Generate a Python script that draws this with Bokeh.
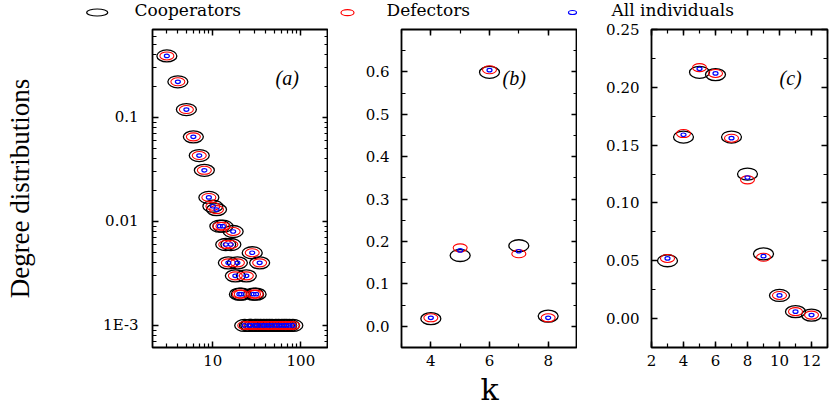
from bokeh.plotting import figure
from bokeh.layouts import row, column
from bokeh.models import (Range1d, FixedTicker, SingleIntervalTicker, LinearAxis, LogAxis,
                          Label, PrintfTickFormatter)
from bokeh.core.properties import value
from bokeh.embed import file_html
from bokeh.resources import INLINE

# ---------------- data ----------------
# panel (a): log-log degree distribution (all three series coincide)
k_a = [3, 4, 5, 6, 7, 8, 9, 10, 11, 12, 13, 14, 15, 16, 17, 18, 19, 20, 21, 23, 24,
       26, 27, 28, 29, 30, 31, 32, 34, 35, 38, 41, 44, 47, 52, 56, 61, 65, 69, 74, 81]
coop_a = [0.39, 0.22, 0.119, 0.065, 0.043, 0.031, 0.017, 0.014, 0.013, 0.009, 0.009, 0.006,
          0.004, 0.006, 0.008, 0.003, 0.004, 0.002, 0.002, 0.001, 0.003, 0.001, 0.001, 0.005,
          0.002, 0.001, 0.002, 0.001, 0.004, 0.001, 0.001, 0.001, 0.001, 0.001, 0.001, 0.001,
          0.001, 0.001, 0.001, 0.001, 0.001]
def_a = list(coop_a)
all_a = list(coop_a)

# panel (b)
k_b = [4, 5, 6, 7, 8]
coop_b = [0.018, 0.167, 0.599, 0.190, 0.024]
def_b = [0.020, 0.185, 0.605, 0.171, 0.020]
all_b = [0.020, 0.179, 0.604, 0.177, 0.020]

# panel (c)
k_c = [3, 4, 5, 6, 7, 8, 9, 10, 11, 12]
coop_c = [0.050, 0.157, 0.213, 0.211, 0.157, 0.125, 0.056, 0.020, 0.006, 0.003]
def_c = [0.052, 0.160, 0.217, 0.212, 0.156, 0.120, 0.053, 0.020, 0.006, 0.003]
all_c = [0.052, 0.159, 0.216, 0.212, 0.156, 0.122, 0.054, 0.020, 0.006, 0.003]

series_names = ["Cooperators", "Defectors", "All individuals"]
series_colors = ["black", "#ff0000", "#0000ff"]
y_title = "Degree distributions"
x_title = "k"
panel_tags = ["(a)", "(b)", "(c)"]

# ---------------- style / layout ----------------
SERIF = "DejaVu Serif"
TICK_FS = "15px"
FW, FH = 176, 318
LEG_H = 20
TOP, BOTTOM = 9, 58

# legend strip (pixel-space layout positions of the key)
leg_mark_x = [96.7, 347, 572]
leg_mark_y = [12.0, 12.2, 12.0]
leg_mark_w = [21, 13, 8]
leg_mark_h = [7, 6, 4]
leg_text_x = [134, 386, 611]
leg_text_y = 9.0

lg = figure(width=829, height=LEG_H, x_range=Range1d(0, 829), y_range=Range1d(LEG_H, 0),
            min_border=0, toolbar_location=None, output_backend="svg")
lg.axis.visible = False
lg.grid.visible = False
lg.outline_line_color = None
lg.background_fill_color = "white"
lg.border_fill_color = "white"
lg.ellipse(x=leg_mark_x, y=leg_mark_y, width=leg_mark_w, height=leg_mark_h,
           width_units="screen", height_units="screen", fill_color=None,
           line_color=series_colors, line_width=1.2)
lg.text(x=leg_text_x, y=[leg_text_y] * 3, text=series_names, text_font=value(SERIF),
        text_font_size=value("17px"), text_color="black", text_baseline="alphabetic",
        text_align="left")


def make_fig(xr, yr, left, right, xt="linear", yt="linear"):
    p = figure(x_range=xr, y_range=yr, x_axis_type=xt, y_axis_type=yt,
               frame_width=FW, frame_height=FH,
               min_border_left=left, min_border_right=right,
               min_border_top=TOP, min_border_bottom=BOTTOM,
               toolbar_location=None, output_backend="svg")
    p.xgrid.visible = False
    p.ygrid.visible = False
    p.outline_line_color = "black"
    p.outline_line_width = 1.8
    p.background_fill_color = "white"
    p.border_fill_color = "white"
    return p


def style_axis(ax, labels=True, standoff=8):
    ax.axis_line_color = None
    ax.major_tick_in = 6
    ax.major_tick_out = 0
    ax.minor_tick_in = 4
    ax.minor_tick_out = 0
    ax.major_tick_line_color = "black"
    ax.major_tick_line_width = 1.5
    ax.minor_tick_line_color = "black"
    ax.minor_tick_line_width = 1.2
    ax.axis_label = None
    if labels:
        ax.major_label_text_font = SERIF
        ax.major_label_text_font_size = TICK_FS
        ax.major_label_text_color = "black"
        ax.major_label_standoff = standoff
    else:
        ax.major_label_text_color = None
        ax.major_label_standoff = 0


def add_series(p, xs, c, d, a):
    p.ellipse(x=xs, y=c, width=20, height=12, width_units="screen", height_units="screen",
              fill_color=None, line_color=series_colors[0], line_width=1.3)
    p.ellipse(x=xs, y=d, width=14, height=8, width_units="screen", height_units="screen",
              fill_color=None, line_color=series_colors[1], line_width=1.1)
    p.ellipse(x=xs, y=a, width=5, height=3.5, width_units="screen", height_units="screen",
              fill_color=None, line_color=series_colors[2], line_width=1.2)


def tag(p, text, x):
    p.add_layout(Label(x=x, y=270, x_units="screen", y_units="screen", text=text,
                       text_font="Liberation Serif", text_font_style="italic",
                       text_font_size="20px", text_color="black",
                       text_baseline="alphabetic", text_align="left"))


def mirror(p, xtick, ytick, log=False):
    Ax = LogAxis if log else LinearAxis
    t = Ax(ticker=xtick)
    r = Ax(ticker=ytick)
    style_axis(t, False)
    style_axis(r, False)
    p.add_layout(t, "above")
    p.add_layout(r, "right")


# ---------------- panel (a) ----------------
pa = make_fig(Range1d(2.06, 206), Range1d(6.14e-4, 0.70), 152, 0, "log", "log")
xa_major = [10, 100]
xa_minor = [m * 10 ** e for e in range(0, 3) for m in range(2, 10)]
ya_major = [0.001, 0.01, 0.1]
ya_minor = [m * 10.0 ** e for e in range(-4, 0) for m in range(2, 10)]
pa.xaxis.ticker = FixedTicker(ticks=xa_major, minor_ticks=xa_minor)
pa.yaxis.ticker = FixedTicker(ticks=ya_major, minor_ticks=ya_minor)
pa.xaxis.major_label_overrides = {10: "10", 100: "100"}
pa.yaxis.major_label_overrides = {0.1: "0.1", 0.01: "0.01", 0.001: "1E-3"}
for ax in pa.xaxis:
    style_axis(ax, True, 7)
for ax in pa.yaxis:
    style_axis(ax, True, 14)
    ax.axis_label = y_title
    ax.axis_label_text_font = "Liberation Serif"
    ax.axis_label_text_font_size = "27px"
    ax.axis_label_text_font_style = "normal"
    ax.axis_label_text_color = "black"
    ax.axis_label_standoff = 65
mirror(pa, FixedTicker(ticks=xa_major, minor_ticks=xa_minor),
       FixedTicker(ticks=ya_major, minor_ticks=ya_minor), log=True)
add_series(pa, k_a, coop_a, def_a, all_a)
tag(pa, panel_tags[0], 123)

# ---------------- panel (b) ----------------
pb = make_fig(Range1d(3, 9), Range1d(-0.05, 0.7), 73, 0)
pb.xaxis.ticker = SingleIntervalTicker(interval=2, num_minor_ticks=2)
pb.yaxis.ticker = SingleIntervalTicker(interval=0.1, num_minor_ticks=2)
pb.yaxis.formatter = PrintfTickFormatter(format="%.1f")
for ax in pb.xaxis:
    style_axis(ax, True, 7)
    ax.axis_label = x_title
    ax.axis_label_text_font = SERIF
    ax.axis_label_text_font_size = "30px"
    ax.axis_label_text_font_style = "normal"
    ax.axis_label_text_color = "black"
    ax.axis_label_standoff = 3
for ax in pb.yaxis:
    style_axis(ax, True, 12)
mirror(pb, SingleIntervalTicker(interval=2, num_minor_ticks=2),
       SingleIntervalTicker(interval=0.1, num_minor_ticks=2))
add_series(pb, k_b, coop_b, def_b, all_b)
tag(pb, panel_tags[1], 101)

# ---------------- panel (c) ----------------
pc = make_fig(Range1d(2, 13), Range1d(-0.025, 0.25), 74, 2)
pc.xaxis.ticker = SingleIntervalTicker(interval=2, num_minor_ticks=2)
pc.yaxis.ticker = SingleIntervalTicker(interval=0.05, num_minor_ticks=2)
pc.yaxis.formatter = PrintfTickFormatter(format="%.2f")
for ax in pc.xaxis:
    style_axis(ax, True, 7)
for ax in pc.yaxis:
    style_axis(ax, True, 12)
mirror(pc, SingleIntervalTicker(interval=2, num_minor_ticks=2),
       SingleIntervalTicker(interval=0.05, num_minor_ticks=2))
add_series(pc, k_c, coop_c, def_c, all_c)
tag(pc, panel_tags[2], 128)

layout = column(lg, row(pa, pb, pc))
open("out.html", "w").write(file_html(layout, INLINE))
